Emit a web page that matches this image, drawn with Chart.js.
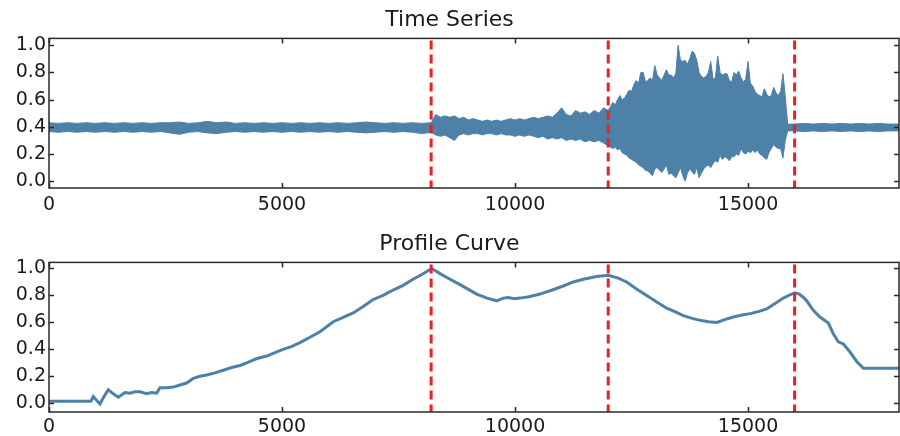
<!DOCTYPE html>
<html>
<head>
<meta charset="utf-8">
<script src="https://cdn.jsdelivr.net/npm/chart.js@4.4.0/dist/chart.umd.min.js"></script>
<style>
  html, body { margin: 0; padding: 0; background: #fff; }
  #wrap { position: relative; width: 900px; height: 436px; }
  .box { position: absolute; left: 0; width: 900px; height: 218px; }
</style>
</head>
<body>
<div id="wrap">
  <div class="box" style="top:0"><canvas id="series-chart" width="900" height="218"></canvas></div>
  <div class="box" style="top:218px"><canvas id="profile-chart" width="900" height="218"></canvas></div>
</div>
<script>
// sample positions of the time series envelope
const tsX = [
  0, 200, 400, 600, 800, 1000, 1200, 1400, 1600, 1800,
  2000, 2200, 2400, 2600, 2800, 3000, 3200, 3400, 3600, 3800,
  4000, 4200, 4400, 4600, 4800, 5000, 5200, 5400, 5600, 5800,
  6000, 6200, 6400, 6600, 6800, 7000, 7200, 7400, 7600, 7800,
  8000, 8200,
  8300, 8400, 8500, 8600, 8700, 8800, 8900, 9000, 9100, 9200,
  9300, 9400, 9500, 9600, 9700, 9800, 9900, 10000, 10100, 10200,
  10300, 10400, 10500, 10600, 10700, 10800, 10900, 11000, 11100, 11200,
  11300, 11400, 11500, 11600, 11700, 11800, 11900, 12000,
  12050, 12100, 12150, 12200, 12250, 12300, 12350, 12400, 12450, 12500,
  12550, 12600, 12650, 12700, 12750, 12800, 12850, 12900, 12950, 13000,
  13050, 13100, 13150, 13200, 13250, 13300, 13350, 13400, 13450, 13500,
  13550, 13600, 13650, 13700, 13750, 13800, 13850, 13900, 13950, 14000,
  14050, 14100, 14150, 14200, 14250, 14300, 14350, 14400, 14450, 14500,
  14550, 14600, 14650, 14700, 14750, 14800, 14850, 14900, 14950, 15000,
  15050, 15100, 15150, 15200, 15250, 15300, 15350, 15400, 15450, 15500,
  15550, 15600, 15650, 15700, 15750, 15800, 15850,
  16000, 16200, 16400, 16600, 16800, 17000, 17200, 17400, 17600, 17800,
  18000, 18240
];

// upper edge of the signal
const tsHigh = [
  0.43, 0.425, 0.43, 0.425, 0.43, 0.425, 0.43, 0.425, 0.43, 0.425,
  0.43, 0.425, 0.43, 0.43, 0.435, 0.425, 0.43, 0.44, 0.43, 0.435,
  0.425, 0.43, 0.425, 0.43, 0.425, 0.43, 0.425, 0.43, 0.425, 0.43,
  0.425, 0.43, 0.425, 0.43, 0.435, 0.43, 0.425, 0.43, 0.425, 0.43,
  0.425, 0.43,
  0.49, 0.47, 0.48, 0.47, 0.48, 0.46, 0.47, 0.45, 0.46, 0.45,
  0.44, 0.45, 0.44, 0.45, 0.44, 0.45, 0.46, 0.45, 0.46, 0.45,
  0.46, 0.47, 0.46, 0.47, 0.48, 0.47, 0.50, 0.54, 0.49, 0.48,
  0.52, 0.50, 0.51, 0.49, 0.52, 0.50, 0.54, 0.52,
  0.55, 0.58, 0.56, 0.60, 0.63, 0.60, 0.61, 0.64, 0.67, 0.66,
  0.71, 0.74, 0.72, 0.80, 0.80, 0.73, 0.74, 0.76, 0.74, 0.85,
  0.78, 0.76, 0.74, 0.78, 0.82, 0.78, 0.78, 0.76, 0.79, 1.00,
  0.89, 0.88, 0.89, 0.86, 0.90, 0.955, 0.94, 0.89, 0.80, 0.77,
  0.76, 0.77, 0.80, 0.88, 0.75, 0.76, 0.92, 0.80, 0.78, 0.79,
  0.79, 0.74, 0.73, 0.80, 0.78, 0.81, 0.76, 0.73, 0.75, 0.88,
  0.72, 0.70, 0.66, 0.64, 0.63, 0.62, 0.68, 0.64, 0.62, 0.63,
  0.69, 0.65, 0.63, 0.66, 0.79, 0.62, 0.42,
  0.42, 0.425, 0.42, 0.425, 0.42, 0.425, 0.42, 0.425, 0.42, 0.425,
  0.42, 0.42
];

// lower edge of the signal
const tsLow = [
  0.365, 0.36, 0.365, 0.36, 0.365, 0.36, 0.365, 0.36, 0.365, 0.36,
  0.365, 0.36, 0.365, 0.355, 0.345, 0.36, 0.365, 0.355, 0.35, 0.36,
  0.365, 0.36, 0.365, 0.36, 0.365, 0.36, 0.365, 0.36, 0.365, 0.36,
  0.365, 0.36, 0.365, 0.36, 0.355, 0.36, 0.365, 0.36, 0.365, 0.36,
  0.35, 0.36,
  0.34, 0.33, 0.34, 0.32, 0.30, 0.34, 0.35, 0.34, 0.35, 0.35,
  0.34, 0.35, 0.35, 0.34, 0.35, 0.34, 0.34, 0.33, 0.34, 0.33,
  0.34, 0.33, 0.32, 0.33, 0.31, 0.32, 0.31, 0.32, 0.30, 0.31,
  0.30, 0.31, 0.29, 0.30, 0.29, 0.30, 0.28, 0.26,
  0.25, 0.24, 0.25, 0.23, 0.24, 0.21, 0.20, 0.19, 0.17, 0.16,
  0.15, 0.14, 0.12, 0.11, 0.10, 0.08, 0.075, 0.06, 0.04, 0.09,
  0.10, 0.08, 0.065, 0.09, 0.12, 0.05, 0.06, 0.04, 0.025, 0.06,
  0.10, 0.04, 0.0, 0.06, 0.09, 0.07, 0.05, 0.10, 0.025, 0.06,
  0.09, 0.11, 0.12, 0.10, 0.13, 0.15, 0.14, 0.19, 0.16, 0.18,
  0.17, 0.15, 0.18, 0.18, 0.20, 0.19, 0.24, 0.21, 0.20, 0.22,
  0.21, 0.23, 0.21, 0.23, 0.20, 0.19, 0.17, 0.16, 0.21, 0.24,
  0.27, 0.25, 0.24, 0.24, 0.17, 0.30, 0.37,
  0.37, 0.365, 0.37, 0.365, 0.37, 0.365, 0.37, 0.365, 0.37, 0.365,
  0.37, 0.37
];

// profile curve
const pcX = [
  0, 900, 950, 1000, 1094, 1180, 1273, 1380, 1488, 1631,
  1738, 1850, 1953, 2096, 2200, 2310, 2382, 2530, 2668, 2811,
  2955, 3097, 3240, 3383, 3560, 3741, 3920, 4099, 4242, 4450,
  4670, 4850, 5020, 5200, 5386, 5600, 5815, 6100, 6300, 6528,
  6750, 6957, 7170, 7385, 7600, 7811, 8000, 8212, 8400, 8605,
  8820, 9000, 9178, 9400, 9607, 9750, 9857, 9980, 10107, 10300,
  10536, 10800, 11036, 11250, 11466, 11750, 12002, 12200, 12396, 12600,
  12826, 13050, 13255, 13430, 13612, 13800, 13970, 14150, 14328, 14500,
  14685, 14870, 15043, 15220, 15401, 15580, 15758, 15900, 16009, 16100,
  16187, 16260, 16400, 16545, 16724, 16831, 16938, 17046, 17189, 17332,
  17475, 18240
];
const pcY = [
  0.015, 0.015, 0.05, 0.03, -0.005, 0.05, 0.10, 0.07, 0.045, 0.08,
  0.075, 0.085, 0.085, 0.07, 0.08, 0.075, 0.115, 0.115, 0.12, 0.135,
  0.15, 0.185, 0.20, 0.21, 0.225, 0.245, 0.265, 0.28, 0.30, 0.33,
  0.35, 0.375, 0.40, 0.42, 0.45, 0.49, 0.53, 0.605, 0.635, 0.67,
  0.72, 0.77, 0.80, 0.84, 0.875, 0.92, 0.955, 1.0, 0.96, 0.92,
  0.88, 0.845, 0.81, 0.78, 0.76, 0.78, 0.785, 0.775, 0.78, 0.79,
  0.81, 0.84, 0.87, 0.90, 0.92, 0.94, 0.95, 0.93, 0.90, 0.85,
  0.80, 0.75, 0.705, 0.68, 0.65, 0.63, 0.615, 0.605, 0.60, 0.62,
  0.64, 0.655, 0.665, 0.68, 0.70, 0.74, 0.78, 0.805, 0.82, 0.81,
  0.785, 0.76, 0.69, 0.64, 0.595, 0.515, 0.455, 0.44, 0.38, 0.31,
  0.26, 0.26
];

const changePoints = [8200, 12000, 16000];
const xTicks = [0, 5000, 10000, 15000];
const yTicks = [0.0, 0.2, 0.4, 0.6, 0.8, 1.0];

const X_MAX = 18240;
const FONT = "'DejaVu Sans', sans-serif";
const TEXT = "#1a1a1a";
const BLUE = "#4d81a7";

function pairs(xs, ys) {
  return xs.map((x, i) => ({ x: x, y: ys[i] }));
}

// frame, inward ticks and dashed change lines
const axesDecor = {
  id: "axesDecor",
  afterDatasetsDraw(chart) {
    const ctx = chart.ctx;
    const a = chart.chartArea;
    const x = chart.scales.x;
    ctx.save();
    ctx.strokeStyle = "#f01e1e";
    ctx.lineWidth = 3;
    ctx.setLineDash([9, 5]);
    changePoints.forEach((cp) => {
      const px = x.getPixelForValue(cp);
      ctx.beginPath();
      ctx.moveTo(px, a.top + 2);
      ctx.lineTo(px, a.bottom);
      ctx.stroke();
    });
    ctx.restore();
  },
  afterDraw(chart) {
    const ctx = chart.ctx;
    const a = chart.chartArea;
    const x = chart.scales.x;
    const y = chart.scales.y;
    ctx.save();
    ctx.strokeStyle = "#2a2a2a";
    ctx.lineWidth = 1.5;
    ctx.beginPath();
    xTicks.forEach((v) => {
      const px = Math.round(x.getPixelForValue(v)) + 0.5;
      ctx.moveTo(px, a.bottom);
      ctx.lineTo(px, a.bottom - 5);
      ctx.moveTo(px, a.top);
      ctx.lineTo(px, a.top + 5);
    });
    yTicks.forEach((v) => {
      const py = Math.round(y.getPixelForValue(v)) + 0.5;
      ctx.moveTo(a.left, py);
      ctx.lineTo(a.left + 5, py);
      ctx.moveTo(a.right, py);
      ctx.lineTo(a.right - 5, py);
    });
    ctx.stroke();
    ctx.strokeRect(a.left, a.top, a.right - a.left, a.bottom - a.top);
    ctx.restore();
  },
};

function buildChart(canvasId, datasets, titleText, yMin, yMax, titlePad, xAxisHeight, xPad) {
  const ctx = document.getElementById(canvasId).getContext("2d");
  return new Chart(ctx, {
    type: "line",
    data: { datasets: datasets },
    options: {
      responsive: false,
      animation: false,
      layout: { padding: { left: 0, right: 1, top: 0, bottom: 0 } },
      elements: { point: { radius: 0 }, line: { tension: 0 } },
      plugins: {
        legend: { display: false },
        tooltip: { enabled: false },
        title: {
          display: true,
          text: titleText,
          color: TEXT,
          font: { family: FONT, size: 22, weight: "normal" },
          padding: titlePad,
        },
      },
      scales: {
        x: {
          type: "linear",
          min: 0,
          max: X_MAX,
          grid: { display: false, drawTicks: false },
          border: { display: false },
          ticks: {
            color: TEXT,
            font: { family: FONT, size: 19 },
            padding: xPad,
            autoSkip: false,
            maxRotation: 0,
            callback: (v) => String(v),
          },
          afterBuildTicks: (s) => {
            s.ticks = xTicks.map((v) => ({ value: v }));
          },
          afterFit: (s) => {
            s.height = xAxisHeight;
          },
        },
        y: {
          min: yMin,
          max: yMax,
          grid: { display: false, drawTicks: false },
          border: { display: false },
          ticks: {
            color: TEXT,
            font: { family: FONT, size: 19 },
            padding: 3,
            autoSkip: false,
            callback: (v) => Number(v).toFixed(1),
          },
          afterBuildTicks: (s) => {
            s.ticks = yTicks.map((v) => ({ value: v }));
          },
          afterFit: (s) => {
            s.width = 49;
          },
        },
      },
    },
    plugins: [axesDecor],
  });
}

document.addEventListener("DOMContentLoaded", function () {
  buildChart(
    "series-chart",
    [
      {
        data: pairs(tsX, tsHigh),
        borderColor: BLUE,
        backgroundColor: BLUE,
        borderWidth: 1,
        fill: "+1",
      },
      {
        data: pairs(tsX, tsLow),
        borderColor: BLUE,
        borderWidth: 1,
        fill: false,
      },
    ],
    "Time Series",
    -0.05,
    1.05,
    { top: 7, bottom: 5 },
    30,
    6
  );

  buildChart(
    "profile-chart",
    [
      {
        data: pairs(pcX, pcY),
        borderColor: BLUE,
        borderWidth: 3,
        fill: false,
      },
    ],
    "Profile Curve",
    -0.065,
    1.045,
    { top: 13, bottom: 5 },
    24,
    4
  );
});
</script>
</body>
</html>
